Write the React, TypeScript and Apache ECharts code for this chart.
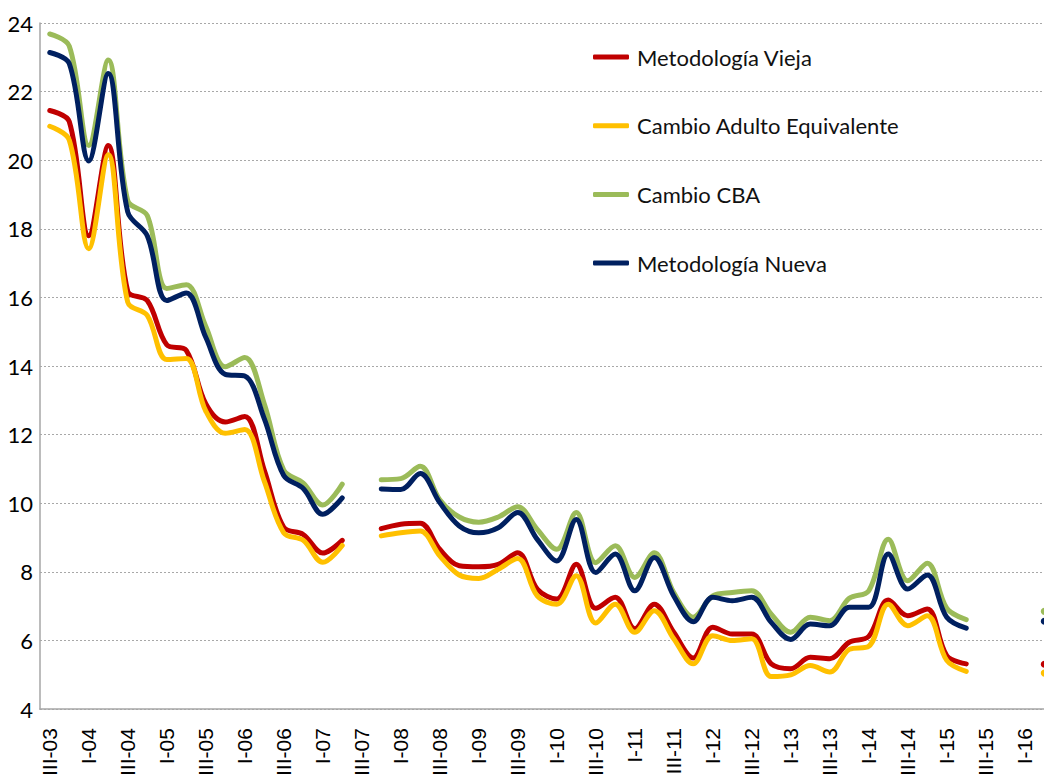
import React, { useEffect, useRef } from "react";
import * as echarts from "echarts";

const categories = [
  "III-03", "IV-03",
  "I-04", "II-04", "III-04", "IV-04",
  "I-05", "II-05", "III-05", "IV-05",
  "I-06", "II-06", "III-06", "IV-06",
  "I-07", "II-07", "III-07", "IV-07",
  "I-08", "II-08", "III-08", "IV-08",
  "I-09", "II-09", "III-09", "IV-09",
  "I-10", "II-10", "III-10", "IV-10",
  "I-11", "II-11", "III-11", "IV-11",
  "I-12", "II-12", "III-12", "IV-12",
  "I-13", "II-13", "III-13", "IV-13",
  "I-14", "II-14", "III-14", "IV-14",
  "I-15", "II-15", "III-15", "IV-15",
  "I-16", "II-16",
];

const seriesNames = [
  "Metodología Vieja",
  "Cambio Adulto Equivalente",
  "Cambio CBA",
  "Metodología Nueva",
];

const seriesColors = ["#C00000", "#FFC000", "#9BBB59", "#002060"];

const metodologiaVieja = [
  21.45, 21.13, 17.8, 20.43, 16.18, 15.91, 14.62, 14.46, 12.9, 12.37, 12.53, 10.97, 9.3, 9.09, 8.55, 8.92,
  null,
  9.26, 9.39, 9.42, 8.66, 8.18, 8.15, 8.22, 8.56, 7.5, 7.21, 8.22, 6.94, 7.26, 6.34, 7.06, 6.24, 5.49,
  6.39, 6.19, 6.19, 5.32, 5.18, 5.51, 5.47, 5.95, 6.12, 7.18, 6.72, 6.92, 5.56, 5.32,
  null, null, null, 5.31,
];

const cambioAdultoEquivalente = [
  20.99, 20.59, 17.42, 20.16, 15.86, 15.48, 14.19, 14.22, 12.69, 12.04, 12.15, 10.65, 9.14, 8.92, 8.28, 8.77,
  null,
  9.05, 9.14, 9.19, 8.47, 7.91, 7.81, 8.08, 8.39, 7.3, 7.06, 7.89, 6.51, 7.06, 6.24, 6.87, 6.05, 5.32,
  6.14, 6.0, 6.05, 4.95, 5.0, 5.27, 5.08, 5.74, 5.83, 7.06, 6.43, 6.72, 5.42, 5.1,
  null, null, null, 5.05,
];

const cambioCBA = [
  23.68, 23.33, 20.43, 22.92, 18.82, 18.39, 16.26, 16.37, 15.16, 13.98, 14.25, 12.9, 10.97, 10.59, 9.95, 10.56,
  null,
  10.69, 10.72, 11.08, 10.1, 9.6, 9.45, 9.6, 9.9, 9.24, 8.66, 9.73, 8.27, 8.76, 7.84, 8.56, 7.4, 6.68,
  7.3, 7.4, 7.45, 6.77, 6.24, 6.68, 6.58, 7.23, 7.45, 8.95, 7.74, 8.25, 6.94, 6.61,
  null, null, null, 6.85,
];

const metodologiaNueva = [
  23.14, 22.82, 19.98, 22.53, 18.49, 17.8, 15.91, 16.13, 14.84, 13.76, 13.71, 12.47, 10.81, 10.43, 9.68, 10.16,
  null,
  10.42, 10.4, 10.87, 10.02, 9.34, 9.14, 9.29, 9.73, 8.95, 8.32, 9.53, 7.98, 8.52, 7.45, 8.42, 7.3, 6.55,
  7.26, 7.16, 7.26, 6.53, 6.03, 6.48, 6.43, 6.97, 6.97, 8.52, 7.5, 7.91, 6.68, 6.36,
  null, null, null, 6.56,
];

const allSeries = [metodologiaVieja, cambioAdultoEquivalente, cambioCBA, metodologiaNueva];

const yMin = 4;
const yMax = 24;
const yInterval = 2;

function toSeriesData(values: (number | null)[], color: string) {
  return values.map((v, i) => {
    const prev = i > 0 ? values[i - 1] : null;
    const next = i < values.length - 1 ? values[i + 1] : null;
    if (v !== null && prev === null && next === null) {
      return { value: v, symbol: "circle", symbolSize: 7, itemStyle: { color } };
    }
    return { value: v, symbol: "none" };
  });
}

export default function App() {
  const ref = useRef<HTMLDivElement>(null);

  useEffect(() => {
    if (!ref.current) return;
    const chart = echarts.init(ref.current, null, { renderer: "svg" });
    const legendFont = "Lato, 'Open Sans', sans-serif";
    const option: any = {
      animation: false,
      backgroundColor: "#ffffff",
      grid: { left: 40, top: 23, bottom: 68, width: 1014, containLabel: false },
      legend: seriesNames.map((name, k) => ({
        data: [name],
        left: 593,
        top: 46 + k * 68.7,
        orient: "vertical",
        icon: "roundRect",
        itemWidth: 36,
        itemHeight: 5,
        padding: 0,
        selectedMode: false,
        textStyle: {
          fontSize: 22,
          fontFamily: legendFont,
          color: "#111",
          padding: [0, 0, 0, 3],
        },
      })),
      xAxis: {
        type: "category",
        data: categories,
        boundaryGap: true,
        axisTick: { show: false },
        axisLine: { show: true, lineStyle: { color: "#a6a6a6", width: 1.5 } },
        splitLine: { show: false },
        axisLabel: {
          rotate: 90,
          interval: 1,
          fontSize: 21,
          fontFamily: "'Liberation Sans', Arial, sans-serif",
          color: "#000",
          margin: 19,
          padding: [8, 0, 0, 0],
        },
      },
      yAxis: {
        type: "value",
        min: yMin,
        max: yMax,
        interval: yInterval,
        axisTick: { show: false },
        axisLine: { show: true, lineStyle: { color: "#a6a6a6", width: 1.5 } },
        splitLine: { show: true, lineStyle: { color: "#a8a8a8", type: [2, 2], width: 1 } },
        axisLabel: {
          fontSize: 22,
          fontFamily: legendFont,
          color: "#000",
          margin: 7,
        },
      },
      series: allSeries.map((vals, k) => ({
        name: seriesNames[k],
        type: "line",
        data: toSeriesData(vals, seriesColors[k]),
        smooth: 0.35,
        connectNulls: false,
        showSymbol: true,
        showAllSymbol: true,
        symbol: "none",
        color: seriesColors[k],
        lineStyle: { color: seriesColors[k], width: 5, cap: "round", join: "round" },
        itemStyle: { color: seriesColors[k] },
        z: 2 + k,
      })),
    };
    chart.setOption(option);
    return () => chart.dispose();
  }, []);

  return (
    <div
      style={{
        position: "fixed",
        left: 0,
        top: 0,
        width: 1044,
        height: 779,
        overflow: "hidden",
        background: "#fff",
      }}
    >
      <div ref={ref} style={{ width: 1064, height: 779 }} />
    </div>
  );
}
